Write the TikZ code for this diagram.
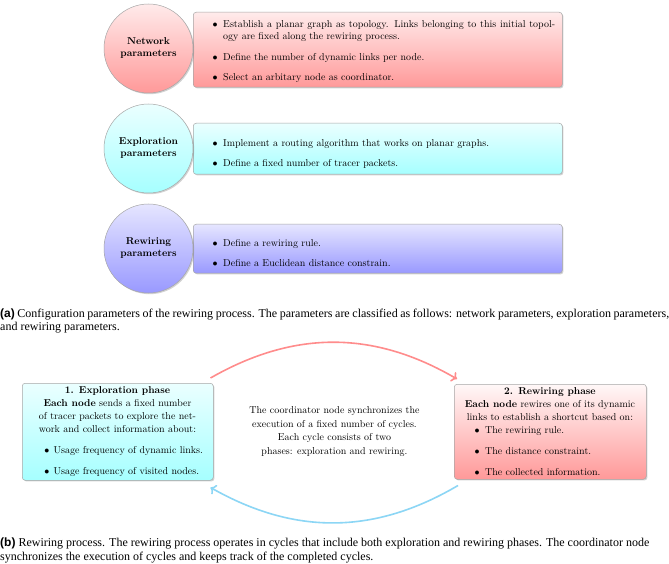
\documentclass[tikz,border=0pt]{standalone}
\usepackage{fontspec}
\newfontfamily\capserif{Liberation Serif}
\newfontfamily\capsans{Liberation Sans}
\usetikzlibrary{shadows,arrows.meta}
\definecolor{arrred}{RGB}{255,140,140}
\definecolor{arrblue}{RGB}{140,214,245}
\begin{document}
\begin{tikzpicture}[x=1pt,y=1pt,
  shd/.style={drop shadow={shadow xshift=1.2pt,shadow yshift=-1.2pt,opacity=0.35}},
  pbox/.style={draw=black!35,line width=0.5pt,rounded corners=3pt,inner sep=0pt,anchor=north west,shd},
  pcirc/.style={circle,draw=black!35,line width=0.5pt,minimum size=89pt,inner sep=0pt,align=center,font=\bfseries,shd},
  txt/.style={inner sep=0pt,anchor=base west,font=\fontsize{10}{12.4}\selectfont},
  ctxt/.style={inner sep=0pt,anchor=base,font=\fontsize{10}{13}\selectfont},
  btxt/.style={inner sep=0pt,anchor=base west,font=\fontsize{10}{13}\selectfont},
  captn/.style={inner sep=0pt,anchor=base west},
  arr/.style={line width=1.6pt,->}
]
\fill[white] (0,0) rectangle (669,563);
\useasboundingbox (0,0) rectangle (669,563);

% ---------- (a) configuration parameters ----------
\node[pbox,top color=red!8,bottom color=red!40,minimum width=369pt,minimum height=75pt] (nbox) at (193,551) {};
\node[pbox,top color=cyan!8,bottom color=cyan!35,minimum width=369pt,minimum height=51pt] (ebox) at (193,440) {};
\node[pbox,top color=blue!10,bottom color=blue!40,minimum width=369pt,minimum height=49pt] (rbox) at (193,339) {};

\node[pcirc,top color=red!8,bottom color=red!40] (ncirc) at (148.5,514.5) {Network\\parameters};
\node[pcirc,top color=cyan!8,bottom color=cyan!35] (ecirc) at (148.5,414.5) {Exploration\\parameters};
\node[pcirc,top color=blue!10,bottom color=blue!40] (rcirc) at (148.5,314.5) {Rewiring\\parameters};

\node[txt] (ntxt) at (212.5,535.5) {\begin{tabular}[t]{@{}l@{\hspace{5.5pt}}l@{}}
$\bullet$ & \makebox[332pt][s]{Establish a planar graph as topology. Links belonging to this initial topol-}\\
 & ogy are fixed along the rewiring process.\\[7.8pt]
$\bullet$ & Define the number of dynamic links per node.\\[7.8pt]
$\bullet$ & Select an arbitary node as coordinator.
\end{tabular}};
\node[txt] (etxt) at (212.5,416.2) {\begin{tabular}[t]{@{}l@{\hspace{5.5pt}}l@{}}
$\bullet$ & Implement a routing algorithm that works on planar graphs.\\[7.8pt]
$\bullet$ & Define a fixed number of tracer packets.
\end{tabular}};
\node[txt] (rtxt) at (212.5,316.2) {\begin{tabular}[t]{@{}l@{\hspace{5.5pt}}l@{}}
$\bullet$ & Define a rewiring rule.\\[7.8pt]
$\bullet$ & Define a Euclidean distance constrain.
\end{tabular}};

\node[captn] (capa) at (0,246) {\parbox[t]{669pt}{\fontsize{12}{14}\capserif
\makebox[669pt][s]{{\capsans\bfseries (a)} Configuration parameters of the rewiring process. The parameters are classified as follows: network parameters, exploration parameters,}\\
and rewiring parameters.}};

% ---------- (b) rewiring process ----------
\node[pbox,top color=cyan!8,bottom color=cyan!35,minimum width=191pt,minimum height=97pt] (expl) at (22,180) {};
\node[pbox,top color=red!3,bottom color=red!40,minimum width=192pt,minimum height=95pt] (rew) at (454,179) {};

\node[ctxt] (expltxt) at (117.5,169.5) {\begin{tabular}[t]{@{}c@{}}
\textbf{1. Exploration phase}\\
\textbf{Each node} sends a fixed number\\
of tracer packets to explore the net-\\
work and collect information about:
\end{tabular}};
\node[btxt] (expllist) at (44.2,109.5) {\begin{tabular}[t]{@{}l@{\hspace{4.2pt}}l@{}}
$\bullet$ & Usage frequency of dynamic links.\\[8pt]
$\bullet$ & Usage frequency of visited nodes.
\end{tabular}};

\node[ctxt] (rewtxt) at (550,168.5) {\begin{tabular}[t]{@{}c@{}}
\textbf{2. Rewiring phase}\\
\textbf{Each node} rewires one of its dynamic\\
links to establish a shortcut based on:
\end{tabular}};
\node[btxt] (rewlist) at (474.5,129.5) {\begin{tabular}[t]{@{}l@{\hspace{5.5pt}}l@{}}
$\bullet$ & The rewiring rule.\\[8pt]
$\bullet$ & The distance constraint.\\[8pt]
$\bullet$ & The collected information.
\end{tabular}};

\node[inner sep=0pt,anchor=base,font=\fontsize{10}{13.5}\selectfont] (coord) at (334.5,149.5) {\begin{tabular}[t]{@{}c@{}}
The coordinator node synchronizes the\\
execution of a fixed number of cycles.\\
Each cycle consists of two\\
phases: exploration and rewiring.
\end{tabular}};

\draw[arr,arrred] ([shift={(-3,5)}]expl.north east) to[bend left=30] ([shift={(3,5)}]rew.north west);
\draw[arr,arrblue] ([shift={(4,-6)}]rew.south west) to[bend left=30] ([shift={(-3,-7)}]expl.south east);

\node[captn] (capb) at (0,17) {\parbox[t]{669pt}{\fontsize{12}{14}\capserif
{\capsans\bfseries (b)} Rewiring process. The rewiring process operates in cycles that include both exploration and rewiring phases. The coordinator node\\
synchronizes the execution of cycles and keeps track of the completed cycles.}};
\end{tikzpicture}
\end{document}
